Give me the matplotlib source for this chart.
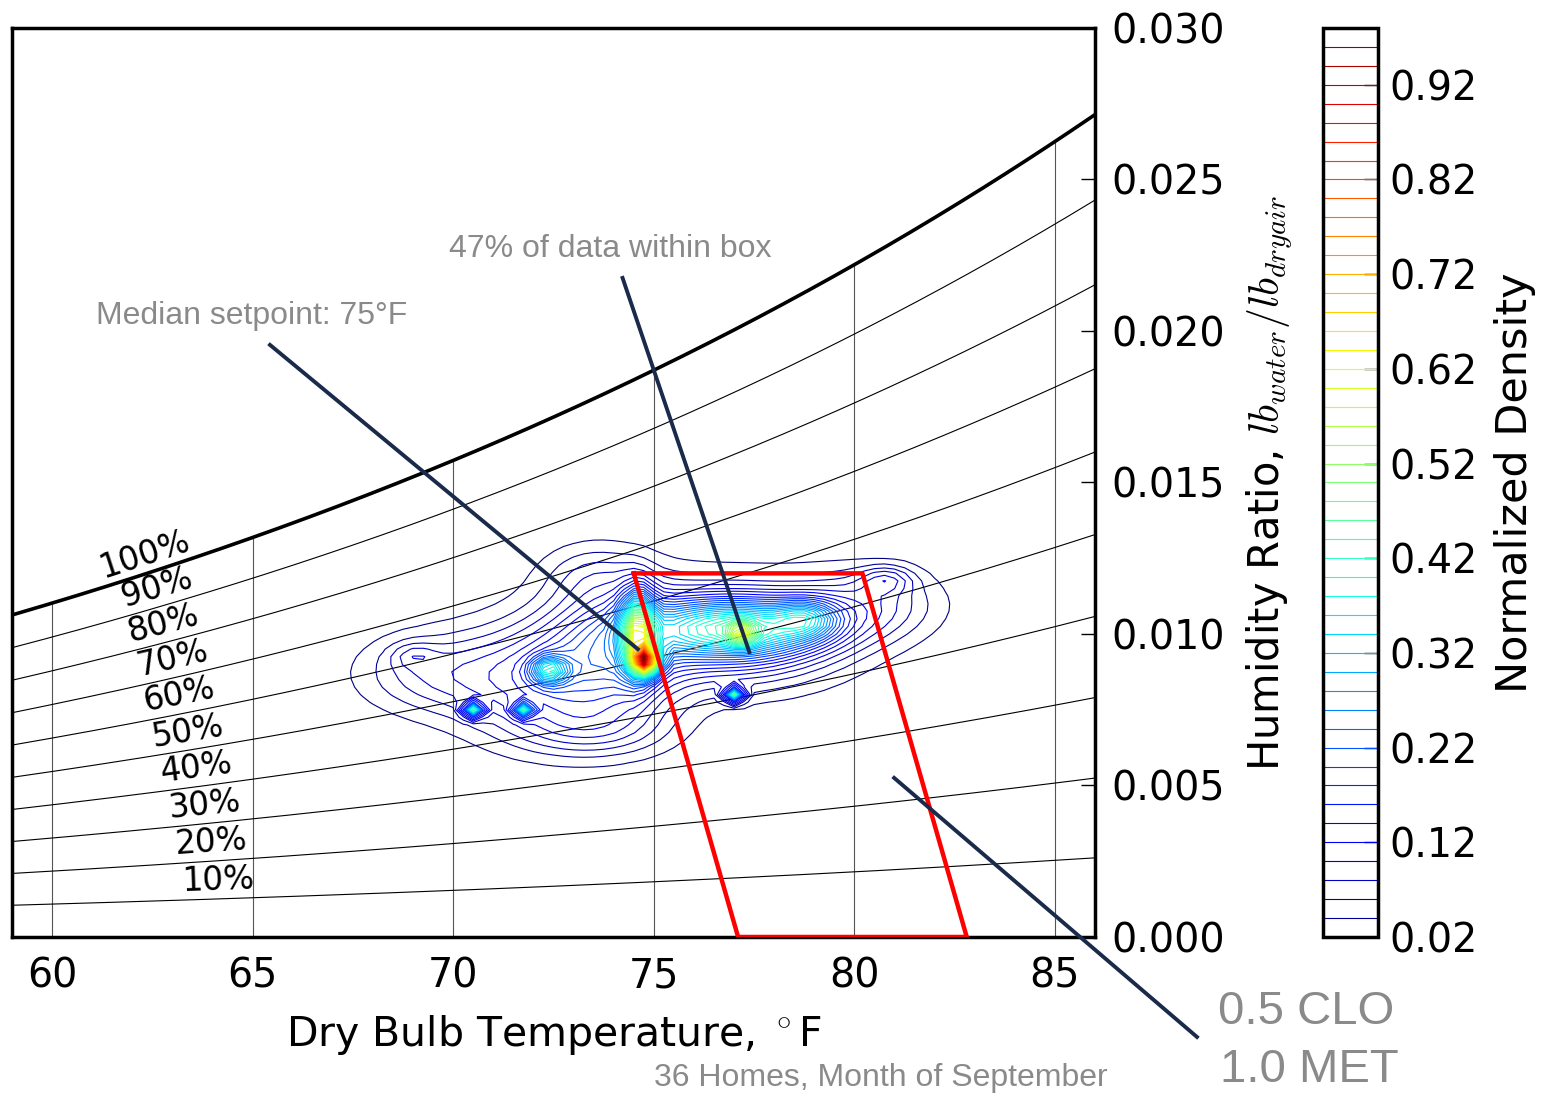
import numpy as np
import matplotlib
matplotlib.use("Agg")
import matplotlib.pyplot as plt

plt.rcParams['font.family'] = ['DejaVu Sans']
plt.rcParams['mathtext.fontset'] = 'cm'

# relative humidity lines drawn on the chart (percent)
rh_levels = [10, 20, 30, 40, 50, 60, 70, 80, 90, 100]
# where along each line its label sits (deg F)
rh_label_temps = [64.15, 64.0, 63.85, 63.65, 63.45, 63.25, 63.1, 62.9, 62.75, 62.45]

temp_ticks = [60, 65, 70, 75, 80, 85]
w_ticks = [0.000, 0.005, 0.010, 0.015, 0.020, 0.025, 0.030]
density_ticks = [0.02, 0.12, 0.22, 0.32, 0.42, 0.52, 0.62, 0.72, 0.82, 0.92]

# comfort box corners (deg F, humidity ratio), 0.5 clo / 1.0 met
box_temp = [74.5, 80.2, 82.8, 77.1, 74.5]
box_w = [0.012, 0.012, 0.0, 0.0, 0.012]

# clusters of indoor readings: temp, humidity ratio, weight, spread in T, spread in W
clusters_t = [69.5, 72.3, 74.0, 77.0, 80.3, 80.8, 73.5, 73.5, 69.0,
              77.0, 74.6,
              74.8, 77.2, 72.4, 78.8,
              70.5, 71.75, 77.0]
clusters_w = [0.0087, 0.0085, 0.0095, 0.0100, 0.0110, 0.0118, 0.0120, 0.0068, 0.0093,
              0.0102, 0.0100,
              0.0091, 0.0100, 0.0088, 0.0105,
              0.0075, 0.0075, 0.0080]
clusters_amp = [0.05, 0.09, 0.10, 0.13, 0.06, 0.05, 0.03, 0.04, 0.03,
                0.20, 0.30,
                0.45, 0.17, 0.18, 0.12,
                0.30, 0.26, 0.32]
clusters_st = [1.3, 1.5, 1.2, 1.8, 1.2, 0.45, 0.9, 1.3, 0.4,
               1.5, 0.28,
               0.22, 0.22, 0.3, 0.5,
               0.15, 0.15, 0.15]
clusters_sw = [0.0009, 0.0013, 0.0015, 0.0011, 0.0008, 0.0003, 0.0007, 0.0006, 0.0003,
               0.0006, 0.0009,
               0.0003, 0.00025, 0.0003, 0.0004,
               0.00015, 0.00015, 0.00015]


def humidity_ratio(tf, rh):
    tc = (np.asarray(tf) - 32.0) / 1.8
    pws = 0.61094 * np.exp(17.625 * tc / (tc + 243.04))
    pw = rh / 100.0 * pws
    return 0.622 * pw / (101.325 - pw)


fig = plt.figure(figsize=(15.45, 10.96), dpi=100)
ax = fig.add_axes([0.0078, 0.1451, 0.7010, 0.8294])
cax = fig.add_axes([0.8563, 0.1451, 0.0356, 0.8294])

ax.set_xlim(59, 86)
ax.set_ylim(0, 0.03)

t = np.linspace(59, 86, 300)
for rh in rh_levels:
    lw = 2.6 if rh == 100 else 0.8
    ax.plot(t, humidity_ratio(t, rh), color='black', lw=lw, zorder=2)

# vertical temperature lines stop at the saturation curve
for tt in temp_ticks:
    ax.plot([tt, tt], [0, humidity_ratio(tt, 100)], color='#555555', lw=0.8, zorder=1)

# RH labels rotated with the local slope of each line
for rh, tl in zip(rh_levels, rh_label_temps):
    p1 = ax.transData.transform((tl - 0.2, humidity_ratio(tl - 0.2, rh)))
    p2 = ax.transData.transform((tl + 0.2, humidity_ratio(tl + 0.2, rh)))
    ang = np.degrees(np.arctan2(p2[1] - p1[1], p2[0] - p1[0]))
    off = 13.5
    ax.annotate('%d%%' % rh, xy=(tl, humidity_ratio(tl, rh)),
                xytext=(-off * np.sin(np.radians(ang)), off * np.cos(np.radians(ang))),
                textcoords='offset points', rotation=ang, rotation_mode='anchor',
                ha='center', va='center', fontsize=23.5, zorder=3)

# density of readings
gt = np.arange(66.0, 84.0, 0.25)
gw = np.arange(0.004, 0.015, 0.00025)
TT, WW = np.meshgrid(gt, gw)
dens = np.zeros_like(TT)
for ct, cw, a, st, sw in zip(clusters_t, clusters_w, clusters_amp, clusters_st, clusters_sw):
    dens += a * np.exp(-0.5 * (((TT - ct) / st) ** 2 + ((WW - cw) / sw) ** 2))
dens = dens / dens.max()

levels = np.arange(0.02, 0.99, 0.02)
cs = ax.contour(TT, WW, dens, levels=levels, cmap='jet', linewidths=0.8, zorder=4)

ax.plot(box_temp, box_w, color='red', lw=3.2, zorder=5)

ax.set_xticks(temp_ticks)
ax.set_yticks(w_ticks)
ax.yaxis.tick_right()
ax.yaxis.set_label_position('right')
ax.yaxis.set_major_formatter(matplotlib.ticker.FormatStrFormatter('%.3f'))
ax.tick_params(axis='y', direction='in', length=10, width=1, labelsize=28.5, pad=12)
ax.tick_params(axis='x', direction='in', length=0, labelsize=28.5, pad=14)
for sp in ax.spines.values():
    sp.set_linewidth(2.5)
ax.set_xlabel('Dry Bulb Temperature, $^\\circ$F', fontsize=29.5, labelpad=12)
ax.set_ylabel('Humidity Ratio, $lb_{water}/lb_{dryair}$', fontsize=30, labelpad=14)

cb = fig.colorbar(cs, cax=cax, ticks=density_ticks)
cb.ax.yaxis.set_major_formatter(matplotlib.ticker.FormatStrFormatter('%.2f'))
cb.ax.tick_params(direction='in', length=10, width=1, color='black', labelsize=28.5, pad=8)
cb.outline.set_linewidth(2.5)
cb.set_label('Normalized Density', fontsize=31, labelpad=12)

# call-outs
navy = '#1a2a4a'
grey = '#8a8a8a'
ax.plot([65.43, 74.6], [0.01954, 0.0095], color=navy, lw=2.8, zorder=6)
ax.plot([74.22, 77.38], [0.02175, 0.0094], color=navy, lw=2.8, zorder=6)
ax.plot([80.99, 88.54], [0.00525, -0.0033], color=navy, lw=2.8, zorder=6, clip_on=False)

fig.text(252 / 1545, 1 - 316 / 1096, 'Median setpoint: 75°F', family='Liberation Sans',
         color=grey, fontsize=23, ha='center', va='center')
fig.text(610 / 1545, 1 - 249 / 1096, '47% of data within box', family='Liberation Sans',
         color=grey, fontsize=23, ha='center', va='center')
fig.text(1108 / 1545, 1 - 1078 / 1096, '36 Homes, Month of September', family='Liberation Sans',
         color=grey, fontsize=23, ha='right', va='center')
fig.text(1218 / 1545, 1 - 1012 / 1096, '0.5 CLO', family='Liberation Sans',
         color=grey, fontsize=34, ha='left', va='center')
fig.text(1220 / 1545, 1 - 1070 / 1096, '1.0 MET', family='Liberation Sans',
         color=grey, fontsize=34, ha='left', va='center')

fig.savefig('out.png', dpi=100)
